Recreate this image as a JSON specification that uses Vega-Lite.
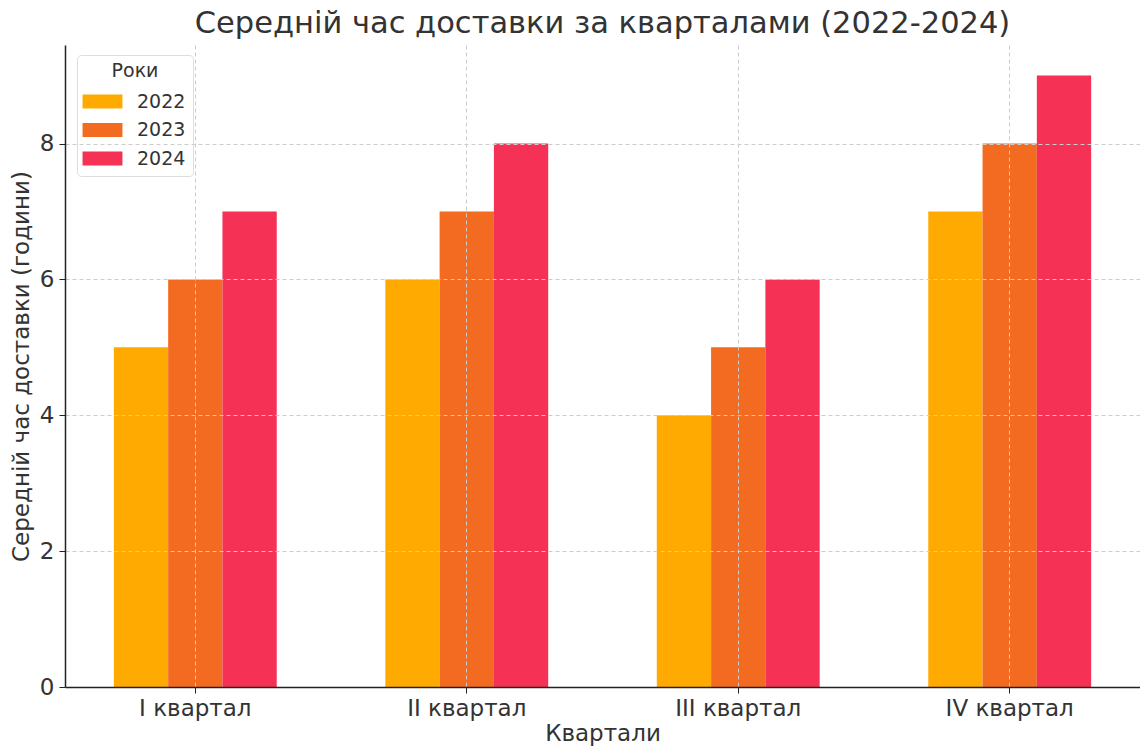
{
  "$schema": "https://vega.github.io/schema/vega-lite/v6.json",
  "width": 1075,
  "height": 642,
  "autosize": {"type": "none"},
  "padding": {"left": 65, "top": 45, "right": 0, "bottom": 62},
  "background": "white",
  "config": {
    "font": "DejaVu Sans",
    "view": {"stroke": null},
    "axis": {"labelFont": "DejaVu Sans", "titleFont": "DejaVu Sans", "labelColor": "#333", "titleColor": "#333", "domainColor": "#222", "tickColor": "#222", "titleFontWeight": "normal"}
  },
  "title": {"text": "Середній час доставки за кварталами (2022-2024)", "fontSize": 30.5, "fontWeight": "normal", "color": "#333", "anchor": "middle", "offset": 6, "font": "DejaVu Sans"},
  "data": {
    "values": [
      {"quarter": "I квартал", "year": "2022", "hours": 5},
      {"quarter": "I квартал", "year": "2023", "hours": 6},
      {"quarter": "I квартал", "year": "2024", "hours": 7},
      {"quarter": "II квартал", "year": "2022", "hours": 6},
      {"quarter": "II квартал", "year": "2023", "hours": 7},
      {"quarter": "II квартал", "year": "2024", "hours": 8},
      {"quarter": "III квартал", "year": "2022", "hours": 4},
      {"quarter": "III квартал", "year": "2023", "hours": 5},
      {"quarter": "III квартал", "year": "2024", "hours": 6},
      {"quarter": "IV квартал", "year": "2022", "hours": 7},
      {"quarter": "IV квартал", "year": "2023", "hours": 8},
      {"quarter": "IV квартал", "year": "2024", "hours": 9}
    ]
  },
  "mark": {"type": "bar"},
  "encoding": {
    "x": {
      "field": "quarter", "type": "nominal", "sort": null,
      "scale": {"paddingInner": 0.4, "paddingOuter": 0.18},
      "axis": {"title": "Квартали", "titleFontSize": 23, "labelFontSize": 23, "labelAngle": 0, "labelPadding": 4, "tickSize": 6, "grid": true, "gridDash": [4, 3], "gridColor": "#cccccc", "gridWidth": 1, "bandPosition": 0.5, "zindex": 1, "titlePadding": 2, "domainWidth": 1.5}
    },
    "xOffset": {"field": "year", "type": "nominal"},
    "y": {
      "field": "hours", "type": "quantitative",
      "scale": {"domain": [0, 9.45], "nice": false},
      "axis": {"title": "Середній час доставки (години)", "titleFontSize": 23, "labelFontSize": 23, "values": [0, 2, 4, 6, 8], "tickSize": 6, "labelPadding": 5, "grid": true, "gridDash": [4, 3], "gridColor": "#cccccc", "gridWidth": 1, "zindex": 1, "titlePadding": 6, "domainWidth": 1.5}
    },
    "color": {
      "field": "year", "type": "nominal",
      "scale": {"domain": ["2022", "2023", "2024"], "range": ["#FFAA00", "#F26B21", "#F53255"]},
      "legend": {"title": "Роки", "orient": "none", "legendX": 12, "legendY": 10, "titleFontSize": 19, "titleFontWeight": "normal", "titleColor": "#333", "labelFontSize": 19, "labelColor": "#333", "symbolType": "M-2.85,-1H2.85V1H-2.85Z", "symbolSize": 196, "symbolStrokeWidth": 0, "symbolOffset": 9, "fillColor": "white", "strokeColor": "#dddddd", "cornerRadius": 4, "padding": 7, "titleAnchor": "middle", "rowPadding": 8.5, "labelOffset": 25, "titlePadding": 11}
    }
  }
}
